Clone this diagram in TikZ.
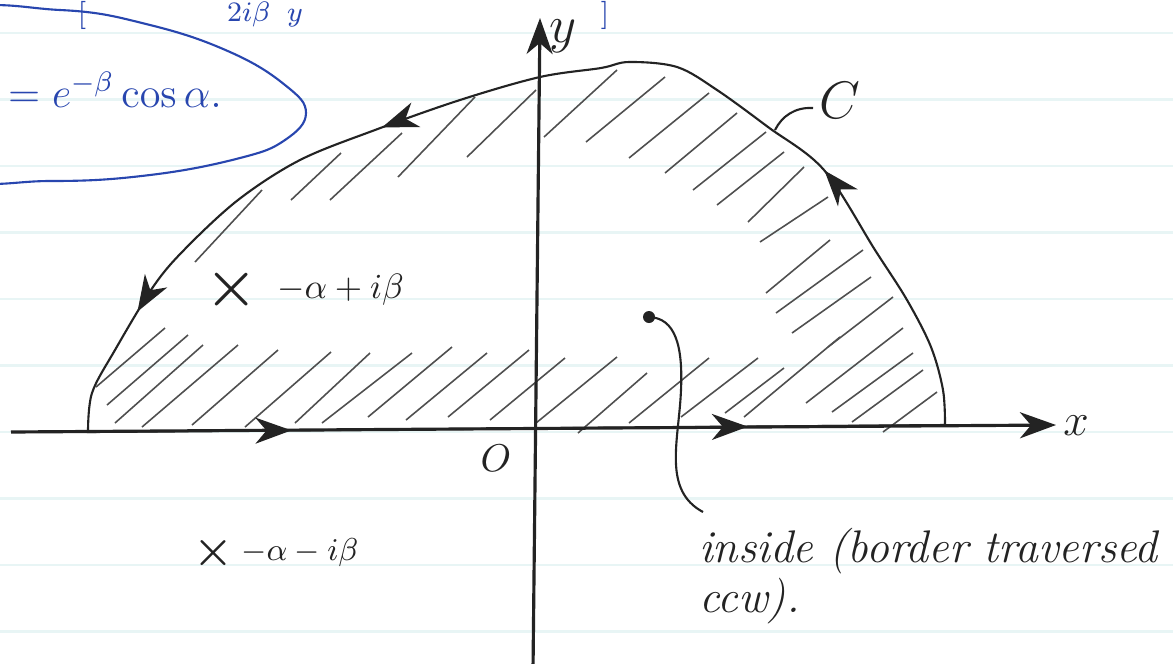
\RequirePackage{fix-cm}
\documentclass[tikz,border=0pt]{standalone}
\usepackage{amsmath}
\usetikzlibrary{arrows.meta,positioning,decorations.markings}
\definecolor{ink}{RGB}{35,35,35}
\definecolor{blueink}{RGB}{40,70,175}
\definecolor{ruling}{RGB}{232,245,245}

\begin{document}
\begin{tikzpicture}[x=0.01cm, y=-0.01cm,
    penarrow/.tip={Stealth[length=3.6mm, width=2.6mm, inset=1.1mm]},
    axis/.style={draw=ink, line width=0.9pt},
    pen/.style={draw=ink, line width=0.6pt},
    contour/.style={pen, color=ink, postaction={decorate}, decoration={markings,
        mark=at position 0.138 with {\arrow{penarrow}},
        mark=at position 0.372 with {\arrow{penarrow}},
        mark=at position 0.523 with {\arrow{penarrow}},
        mark=at position 0.685 with {\arrow{penarrow}},
        mark=at position 0.905 with {\arrow{penarrow}}}},
    hatch/.style={draw=ink!80, line width=0.45pt},
    ruled/.style={draw=ruling, line width=0.8pt},
    bluepen/.style={draw=blueink, line width=0.6pt},
    lbl/.style={text=ink, inner sep=1pt},
    bluelbl/.style={text=blueink, inner sep=1pt, font=\fontsize{12}{14}\selectfont},
    bluetop/.style={text=blueink, inner sep=0pt, anchor=north, font=\fontsize{8}{9}\selectfont}]

    \useasboundingbox (0,0) rectangle (1173,663);
    \clip (0,0) rectangle (1173,663);
    \fill[white] (0,0) rectangle (1173,663);

    % ruled paper
    \foreach \k in {0,...,9}
        \draw[ruled] (0,{33+66.5*\k}) -- (1173,{33+66.5*\k});

    % blue note, cut by the page edge
    \draw[bluepen] plot[smooth cycle, tension=0.7] coordinates {(306,113) (285,140) (240,158) (150,175) (50,181) (-60,175) (-200,100) (-60,15) (60,10) (150,25) (230,52) (285,85)};
    \node[bluelbl, anchor=base west] (note) at (4,107) {$=e^{-\beta}\cos\alpha.$};
    \node[bluetop] (brleft) at (82,1) {$[$};
    \node[bluetop] (frag) at (265,1) {$2i\beta\;\; y$};
    \node[bluetop] (brright) at (605,1) {$]$};

    % hatching of the inside
    \foreach \xa/\ya/\xb/\yb in {
        96/387/165/328, 107/405/188/335, 115/423/203/345, 142/427/238/345,
        192/425/278/350, 245/427/331/352, 295/423/370/353, 322/423/412/353,
        368/417/452/347, 406/420/487/353, 448/417/529/350, 490/420/565/358,
        536/423/617/357, 578/433/647/373, 629/423/709/358, 681/417/758/358,
        725/413/784/368, 744/417/840/337, 806/403/903/328, 832/412/913/353,
        852/422/923/370, 883/432/937/392,
        766/293/830/240, 776/313/863/250, 792/333/871/277, 828/347/893/297,
        760/242/828/197, 748/222/804/167, 717/205/784/152, 693/190/766/132,
        665/173/737/113, 629/158/709/93, 586/142/665/77, 544/137/617/70,
        467/157/536/90, 398/177/475/97, 330/200/402/133, 291/200/341/153,
        195/262/262/190}
        \draw[hatch] (\xa,\ya) -- (\xb,\yb);

    % axes
    \coordinate (xstart) at (11,432);
    \coordinate (xend) at (1056,425);
    \coordinate (ystart) at (533,670);
    \coordinate (yend) at (540,18);
    \draw[axis, -{penarrow}] (xstart) -- (xend);
    \draw[axis, -{penarrow}] (ystart) -- (yend);
    \node[lbl, font=\fontsize{13}{13}\selectfont] (xlbl) at (1076,426) {$x$};
    \node[lbl, font=\fontsize{15}{15}\selectfont] (ylbl) at (563,36) {$y$};
    \node[lbl, font=\fontsize{11}{11}\selectfont] (orig) at (496,458) {$O$};

    % contour C, traversed ccw
    \draw[contour] plot[smooth, tension=0.55] coordinates {(945,425) (943,390) (931,347) (907,300) (875,250) (824,170) (768,127) (717,90) (677,67) (629,62) (601,68) (540,77) (460,100) (375,130) (300,160) (238,200) (184,250) (153,287) (115,350) (92,393) (88,432)} -- cycle;

    \node[lbl, font=\fontsize{15}{15}\selectfont] (clabel) at (840,100) {$C$};
    \coordinate (cfoot) at (775,130);
    \coordinate (ctail) at (813,108);
    \draw[pen] (cfoot) .. controls (782,116) and (795,107) .. (ctail);

    % poles
    \node[lbl, font=\fontsize{17}{17}\selectfont\bfseries] (poleup) at (232,290) {×};
    \node[lbl, font=\fontsize{10}{10}\selectfont, right=3pt of poleup] (poleuplbl) {$-\alpha+i\beta$};
    \node[lbl, font=\fontsize{13}{13}\selectfont\bfseries] (poledown) at (213,553) {×};
    \node[lbl, font=\fontsize{9}{9}\selectfont, right=0pt of poledown] (poledownlbl) {$-\alpha-i\beta$};

    % pointer to the inside
    \coordinate (dotpt) at (649,317);
    \fill[ink] (dotpt) circle (6);
    \node[lbl, anchor=base west, font=\fontsize{13}{15}\selectfont\itshape] (inside) at (695,562) {inside (border traversed};
    \node[lbl, anchor=base west, font=\fontsize{13}{15}\selectfont\itshape] (ccw) at (695,612) {ccw).};
    \coordinate (curveend) at (703,512);
    \draw[pen] (dotpt) .. controls (675,318) and (683,345) .. (681,390) .. controls (679,440) and (662,490) .. (curveend);
\end{tikzpicture}
\end{document}
